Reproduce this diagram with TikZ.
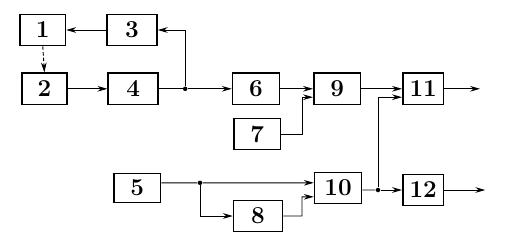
\documentclass[tikz,border=0pt]{standalone}
\usetikzlibrary{arrows.meta,calc}

\tikzset{
  blk/.style={draw,line width=1.2pt,minimum width=1.17cm,minimum height=.78cm,inner sep=0pt,font=\LARGE\bfseries},
  conn/.style={line width=.65pt,-{Stealth[length=7pt,width=4pt]}},
  wire/.style={line width=.65pt},
  jdot/.style={circle,fill,inner sep=0pt,minimum size=3.2pt}
}

\begin{document}
\begin{tikzpicture}
\useasboundingbox (0,0) rectangle (12.625,6.05);
% blocks
\node[blk,minimum width=1.13cm] (b1) at (1.07,5.30) {1};
\node[blk,minimum width=1.13cm] (b2) at (1.11,3.83) {2};
\node[blk,minimum width=1.25cm] (b3) at (3.30,5.30) {3};
\node[blk,minimum width=1.25cm] (b4) at (3.33,3.83) {4};
\node[blk] (b6) at (6.40,3.83) {6};
\node[blk] (b9) at (8.43,3.83) {9};
\node[blk,minimum width=1.02cm] (b11) at (10.58,3.83) {11};
\node[blk] (b7) at (6.43,2.70) {7};
\node[blk,minimum height=.73cm] (b5) at (3.43,1.35) {5};
\node[blk] (b10) at (8.45,1.35) {10};
\node[blk,minimum width=1.22cm] (b8) at (6.45,.65) {8};
\node[blk,minimum width=1.02cm] (b12) at (10.58,1.30) {12};
% junctions and free ends
\node[jdot] (j1) at (4.63,3.83) {};
\node[jdot] (j2) at (5.00,1.48) {};
\node[jdot] (j3) at (9.45,1.30) {};
\coordinate (o11) at (12.00,3.83);
\coordinate (o12) at (12.13,1.30);
% upper chain
\draw[conn] (b3.west) -- (b1.east);
\draw[conn,dash pattern=on 2.5pt off 1.5pt] (b1.south) -- (b2.north);
\draw[conn] (b2.east) -- (b4.west);
\draw[wire] (b4.east) -- (j1);
\draw[conn] (j1) -- (b6.west);
\draw[conn] (j1) |- (b3.east);
\draw[conn] (b6.east) -- (b9.west);
\draw[conn] (b7.east) -| (7.55,3.62) -- ($(b9.west)+(0,-.21)$);
\draw[conn] (b9.east) -- (b11.west);
\draw[conn] (b11.east) -- (o11);
% lower chain
\draw[wire] ($(b5.east)+(0,.13)$) -- (j2);
\draw[conn] (j2) -- ($(b10.west)+(0,.13)$);
\draw[conn] (j2) |- (b8.west);
\draw[conn] (b8.east) -| (7.55,1.13) -- ($(b10.west)+(0,-.22)$);
\draw[wire] ($(b10.east)+(0,-.05)$) -- (j3);
\draw[conn] (j3) -- (b12.west);
\draw[conn] (j3) |- ($(b11.west)+(0,-.21)$);
\draw[conn] (b12.east) -- (o12);
\end{tikzpicture}
\end{document}
